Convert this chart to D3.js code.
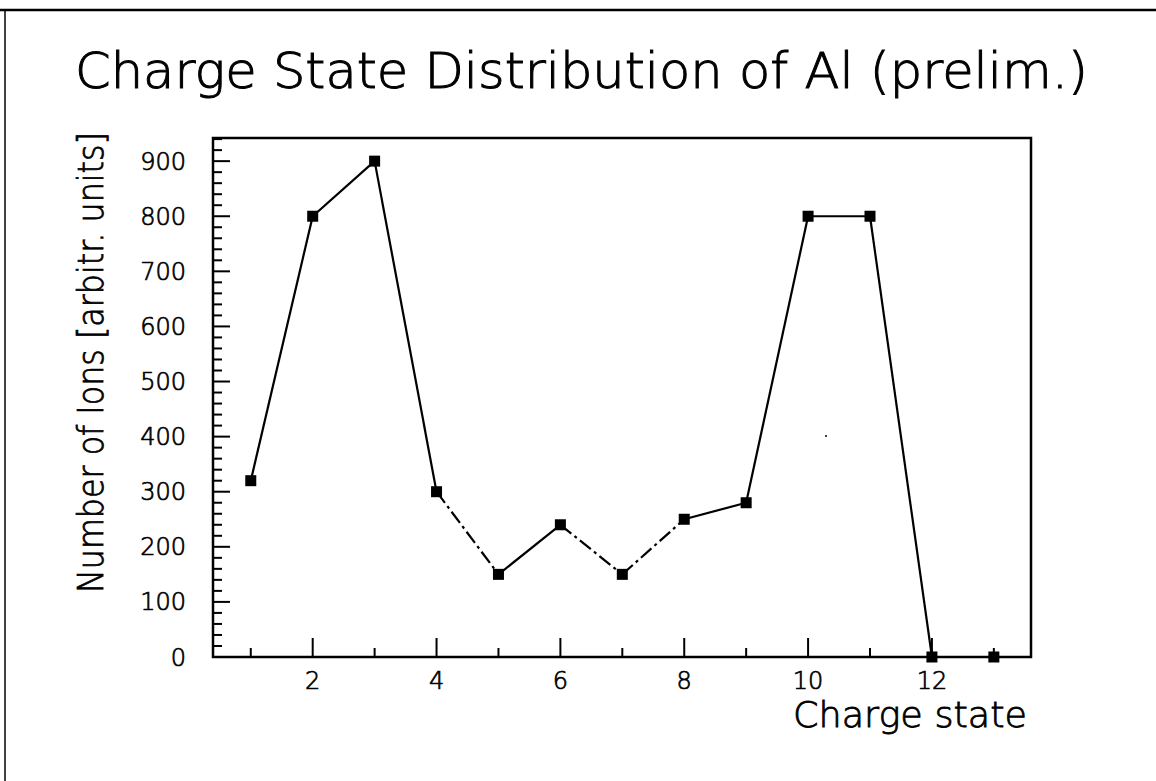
<!DOCTYPE html>
<html>
<head>
<meta charset="utf-8">
<script src="https://cdn.jsdelivr.net/npm/d3@7"></script>
<style>
  body { margin: 0; background: #fff; }
  svg text { font-family: "DejaVu Sans", sans-serif; font-weight: 200; fill: #000; stroke: #000; }
</style>
</head>
<body>
<div id="chart"></div>
<script>
// data
const charge = [1, 2, 3, 4, 5, 6, 7, 8, 9, 10, 11, 12, 13];
const ions = [320, 800, 900, 300, 150, 240, 150, 250, 280, 800, 800, 0, 0];
const xMajor = [2, 4, 6, 8, 10, 12];
const yMajor = [0, 100, 200, 300, 400, 500, 600, 700, 800, 900];
const dashedSegs = [3, 5, 6]; // segment starting at index i is dash-dotted

const W = 1156, H = 781;
const frame = {left: 213, right: 1031, top: 138, bottom: 657};

const svg = d3.select("#chart").append("svg")
    .attr("width", W).attr("height", H);

// scanned page edges
svg.append("line").attr("x1", 0).attr("x2", W).attr("y1", 10).attr("y2", 10)
    .attr("stroke", "#000").attr("stroke-width", 2.5);
svg.append("line").attr("x1", 5).attr("x2", 5).attr("y1", 10).attr("y2", H)
    .attr("stroke", "#000").attr("stroke-width", 1.5);

const x = d3.scaleLinear().domain([0.39, 13.6]).range([frame.left, frame.right]);
const y = d3.scaleLinear().domain([0, 942]).range([frame.bottom, frame.top]);

// title
svg.append("text")
    .attr("x", 75).attr("y", 88)
    .attr("font-size", 50).attr("stroke-width", 1)
    .attr("textLength", 1013).attr("lengthAdjust", "spacingAndGlyphs")
    .text("Charge State Distribution of Al (prelim.)");

// frame
svg.append("rect")
    .attr("x", frame.left).attr("y", frame.top)
    .attr("width", frame.right - frame.left).attr("height", frame.bottom - frame.top)
    .attr("fill", "none").attr("stroke", "#000").attr("stroke-width", 2.5);

// y ticks (inside)
const yMinor = d3.range(0, 942, 20);
svg.append("g").selectAll("line").data(yMinor).enter().append("line")
    .attr("x1", frame.left).attr("x2", d => frame.left + (d % 100 === 0 ? 17 : 9))
    .attr("y1", d => y(d)).attr("y2", d => y(d))
    .attr("stroke", "#000").attr("stroke-width", 2);

svg.append("g").selectAll("text").data(yMajor).enter().append("text")
    .attr("x", 186).attr("y", d => y(d) + 8.5)
    .attr("text-anchor", "end")
    .attr("font-size", 24).attr("stroke-width", 0.7)
    .text(d => d);

// x ticks (inside)
const xMinor = d3.range(1, 14);
svg.append("g").selectAll("line").data(xMinor).enter().append("line")
    .attr("x1", d => x(d)).attr("x2", d => x(d))
    .attr("y1", frame.bottom).attr("y2", d => frame.bottom - (d % 2 === 0 ? 19 : 9))
    .attr("stroke", "#000").attr("stroke-width", 2);

svg.append("g").selectAll("text").data(xMajor).enter().append("text")
    .attr("x", d => x(d)).attr("y", 689)
    .attr("text-anchor", "middle")
    .attr("font-size", 24).attr("stroke-width", 0.7)
    .text(d => d);

// axis titles
svg.append("text")
    .attr("x", 1027).attr("y", 727)
    .attr("text-anchor", "end")
    .attr("font-size", 36).attr("stroke-width", 0.8)
    .attr("textLength", 234).attr("lengthAdjust", "spacingAndGlyphs")
    .text("Charge state");

svg.append("text")
    .attr("transform", "translate(103, 593) rotate(-90)")
    .attr("font-size", 36).attr("stroke-width", 0.8)
    .attr("textLength", 461).attr("lengthAdjust", "spacingAndGlyphs")
    .text("Number of Ions [arbitr. units]");

// line segments (last pair on the axis is not joined)
const pts = charge.map((c, i) => [c, ions[i]]);
const segs = d3.range(pts.length - 2).map(i => ({i: i, a: pts[i], b: pts[i + 1]}));
svg.append("g").selectAll("line").data(segs).enter().append("line")
    .attr("x1", d => x(d.a[0])).attr("y1", d => y(d.a[1]))
    .attr("x2", d => x(d.b[0])).attr("y2", d => y(d.b[1]))
    .attr("stroke", "#000").attr("stroke-width", 2.2)
    .attr("stroke-dasharray", d => dashedSegs.includes(d.i) ? "14,4,3,4" : null);

// markers
svg.append("g").selectAll("rect").data(pts).enter().append("rect")
    .attr("x", d => x(d[0]) - 5.5).attr("y", d => y(d[1]) - 5.5)
    .attr("width", 11).attr("height", 11)
    .attr("fill", "#000");

// stray speck from the scan
svg.append("circle").attr("cx", 826).attr("cy", 436).attr("r", 1).attr("fill", "#000");
</script>
</body>
</html>
